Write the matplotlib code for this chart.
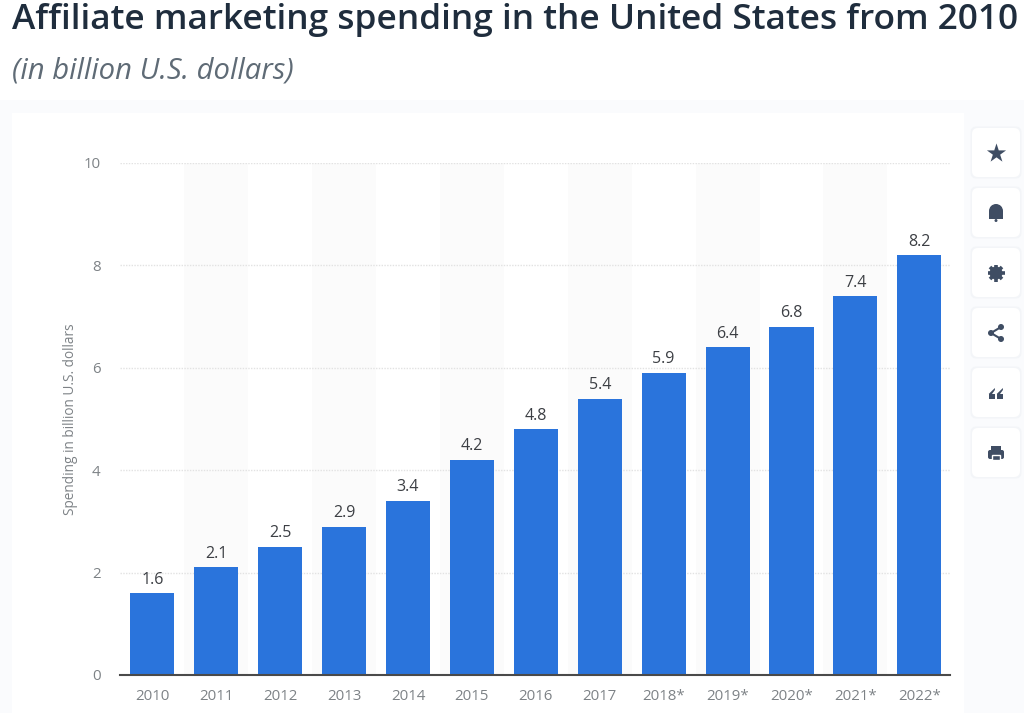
import matplotlib
matplotlib.use("Agg")
import matplotlib.pyplot as plt
from matplotlib.patches import FancyBboxPatch, Rectangle, Circle, Polygon, Wedge

years = ["2010", "2011", "2012", "2013", "2014", "2015", "2016", "2017",
         "2018*", "2019*", "2020*", "2021*", "2022*"]
spending = [1.6, 2.1, 2.5, 2.9, 3.4, 4.2, 4.8, 5.4, 5.9, 6.4, 6.8, 7.4, 8.2]
y_ticks = [0, 2, 4, 6, 8, 10]
title = "Affiliate marketing spending in the United States from 2010"
subtitle = "(in billion U.S. dollars)"
y_label = "Spending in billion U.S. dollars"

W, H = 1024, 713
BG = "#fafbfd"
BLUE = "#2a74dc"
ICON = "#3f4d63"
plt.rcParams["font.family"] = ["Open Sans", "DejaVu Sans"]

fig = plt.figure(figsize=(W / 100, H / 100), dpi=100, facecolor=BG)

page = fig.add_axes([0, 0, 1, 1], zorder=0)
page.set_xlim(0, W)
page.set_ylim(H, 0)
page.axis("off")
page.add_patch(Rectangle((0, 0), W, 100, fc="white", ec="none"))
page.add_patch(Rectangle((12, 113), 952, 600, fc="white", ec="none"))
page.text(12, 20, title, fontsize=25.36, fontweight=600, color="#1f2d3d", va="center", ha="left")
page.text(12, 71, subtitle, fontsize=21.1, style="italic", color="#5f6b76", va="center", ha="left")

centers = [153, 213, 273, 333, 393, 453]
for cy in centers:
    for grow, col in ((1.5, "#f3f5f8"), (0, "white")):
        page.add_patch(FancyBboxPatch((972 - grow, cy - 25 - grow), 48 + 2 * grow, 49 + 2 * grow,
                                      boxstyle="round,pad=0,rounding_size=6", fc=col, ec="none"))
cx = 996
page.scatter([cx], [centers[0]], marker="*", s=210, color=ICON, linewidths=0)
# bell
c = centers[1]
page.add_patch(Wedge((cx, c - 2), 7, 180, 360, fc=ICON, ec="none"))
page.add_patch(Rectangle((cx - 7, c - 2), 14, 8, fc=ICON, ec="none"))
page.add_patch(Circle((cx, c + 7.5), 1.5, fc=ICON, ec="none"))
# gear
c = centers[2]
for a, b in (((-8.5, 0), (8.5, 0)), ((0, -8.5), (0, 8.5)), ((-6, -6), (6, 6)), ((-6, 6), (6, -6))):
    page.plot([cx + a[0], cx + b[0]], [c + a[1], c + b[1]], color=ICON, lw=2.6, solid_capstyle="butt")
page.add_patch(Circle((cx, c), 6.5, fc=ICON, ec="none"))
page.add_patch(Circle((cx, c), 3.4, fc="white", ec="none"))
# share
c = centers[3]
nodes = [(cx - 5, c), (cx + 5, c - 6), (cx + 5, c + 6)]
page.plot([nodes[1][0], nodes[0][0], nodes[2][0]], [nodes[1][1], nodes[0][1], nodes[2][1]], color=ICON, lw=1.5)
for n in nodes:
    page.add_patch(Circle(n, 3, fc=ICON, ec="none"))
# quote
c = centers[4]
for dx in (-4, 4):
    page.add_patch(Rectangle((cx + dx - 3.3, c + 0.5), 6.2, 5, fc=ICON, ec="none"))
    page.add_patch(Polygon([(cx + dx - 3.3, c + 1), (cx + dx + 2.9, c - 5), (cx + dx + 2.9, c - 3),
                            (cx + dx, c + 1)], fc=ICON, ec="none"))
# printer
c = centers[5]
page.add_patch(Rectangle((cx - 5, c - 7), 10, 4, fc=ICON, ec="none"))
page.add_patch(FancyBboxPatch((cx - 8, c - 3), 16, 9, boxstyle="round,pad=0,rounding_size=2", fc=ICON, ec="none"))
page.add_patch(Rectangle((cx - 4, c + 2), 8, 5, fc=ICON, ec="white", lw=1))

left, right, top, bottom = 120, 950, 163, 675
ax = fig.add_axes([left / W, 1 - bottom / H, (right - left) / W, (bottom - top) / H], zorder=1)
ax.patch.set_alpha(0)
x = list(range(len(years)))
ax.bar(x, spending, width=0.69, color=BLUE, zorder=3)
for i in x[1::2]:
    ax.axvspan(i - 0.5, i + 0.5, color="#fbfbfb", lw=0, zorder=0)
ax.set_xlim(-0.505, 12.48)
ax.set_ylim(0, 10)
ax.set_yticks(y_ticks)
ax.set_xticks(x, years)
ax.yaxis.grid(True, color="#e2e2e2", lw=1.0, ls=(0, (1, 1)), zorder=1)
ax.set_axisbelow(True)
for s in ("top", "left", "right"):
    ax.spines[s].set_visible(False)
ax.spines["bottom"].set_color("#4a4a4a")
ax.spines["bottom"].set_linewidth(1.5)
ax.spines["bottom"].set_zorder(5)
ax.tick_params(axis="both", length=0, labelcolor="#7d8286", labelsize=10.8)
ax.tick_params(axis="x", pad=10)
ax.tick_params(axis="y", pad=14)
ax.set_ylabel(y_label, fontsize=9.8, color="#7d8286", labelpad=4)
for i, v in zip(x, spending):
    ax.annotate(f"{v:.1f}", (i, v), xytext=(0, 4), textcoords="offset points", ha="center", va="bottom",
                fontsize=11.5, color="#3c3f44", fontweight=500)

fig.savefig("out.png", dpi=100, facecolor=BG)
